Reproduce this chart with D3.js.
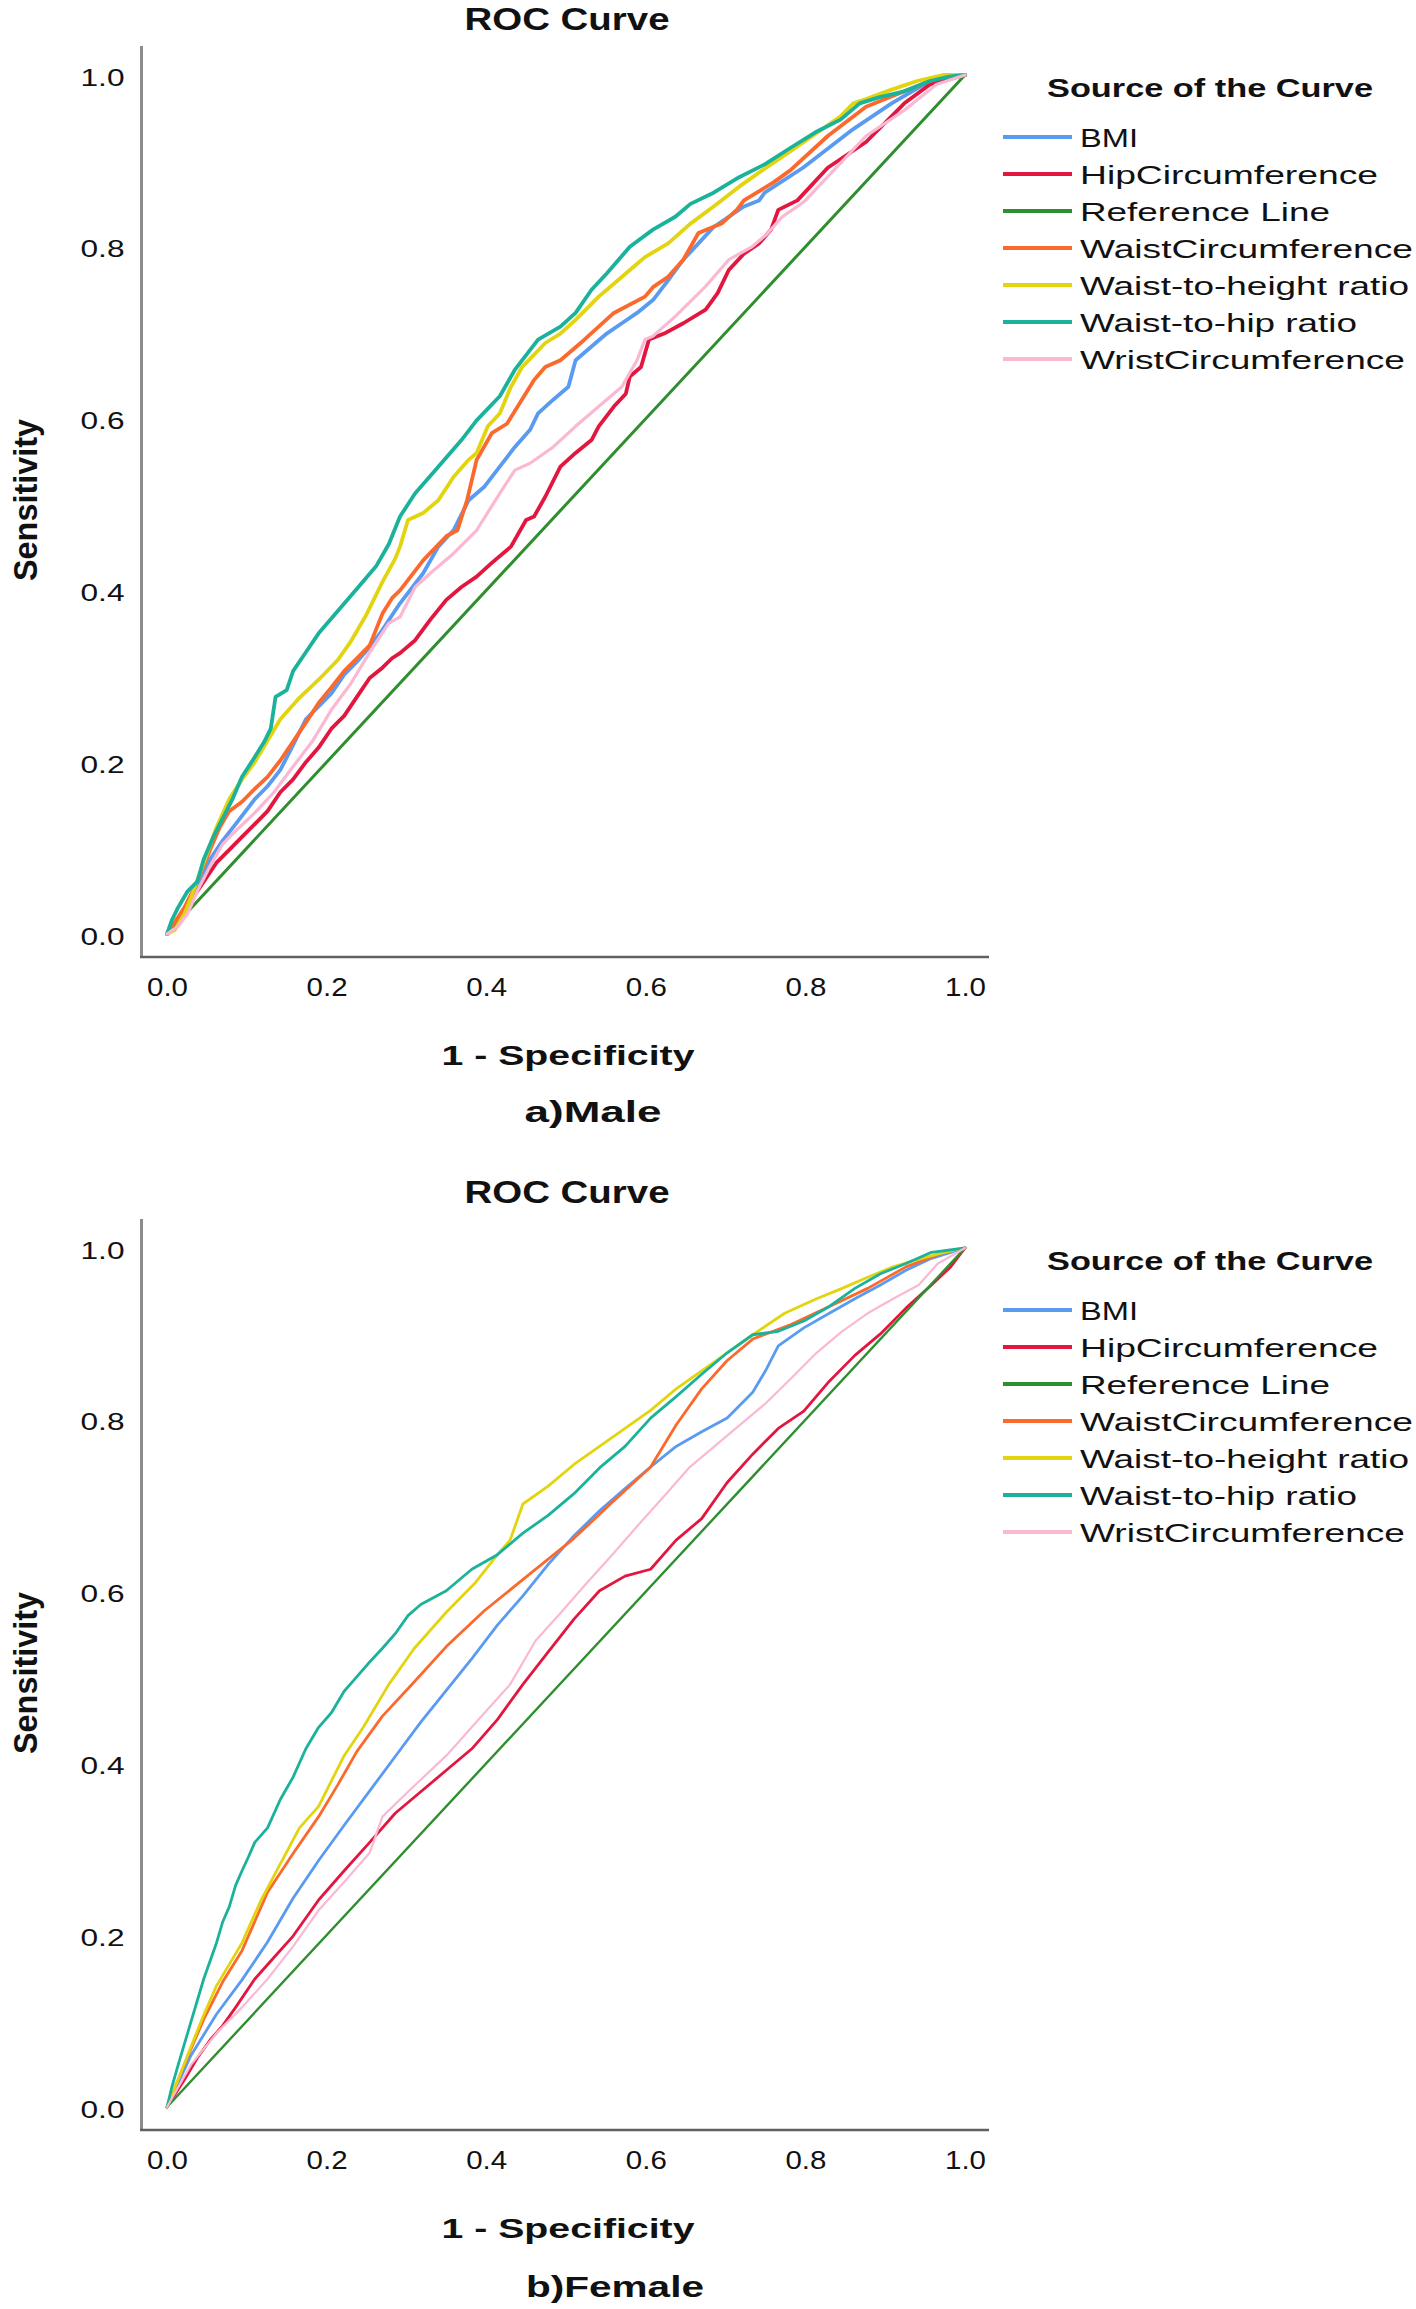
<!DOCTYPE html>
<html><head><meta charset="utf-8">
<script src="https://cdn.jsdelivr.net/npm/d3@7"></script>
<style>
body{margin:0;background:#fff}
svg text{font-family:"Liberation Sans",Arial,Helvetica,sans-serif;fill:#111}
</style>
</head><body>
<svg id="chart" width="1416" height="2309"></svg>
<script>
// ---------- data ----------
const seriesNames = ["BMI","HipCircumference","Reference Line","WaistCircumference","Waist-to-height ratio","Waist-to-hip ratio","WristCircumference"];
const seriesColors = ["#5a9bf2","#e2163f","#2f8f2f","#fb6a2c","#e2d50f","#1bb29b","#fbb8d3"];
const tickValues = [0,0.2,0.4,0.6,0.8,1.0];
const tickLabels = ["0.0","0.2","0.4","0.6","0.8","1.0"];
const panelTitles = ["ROC Curve","ROC Curve"];
const panelCaptions = ["a)Male","b)Female"];
const xTitle = "1 - Specificity";
const yTitle = "Sensitivity";
const legendTitle = "Source of the Curve";
const referenceLine = [[0,0],[1,1]];

// Male panel: [1 - specificity, sensitivity]
const maleBMI = [[0,0],[0.022,0.024],[0.038,0.053],[0.054,0.087],[0.07,0.109],[0.086,0.128],[0.11,0.157],[0.126,0.172],[0.142,0.191],[0.158,0.22],[0.174,0.25],[0.19,0.265],[0.206,0.28],[0.222,0.302],[0.238,0.317],[0.254,0.334],[0.27,0.354],[0.282,0.371],[0.292,0.385],[0.321,0.42],[0.34,0.451],[0.359,0.47],[0.378,0.505],[0.398,0.521],[0.417,0.544],[0.436,0.567],[0.455,0.587],[0.465,0.606],[0.484,0.622],[0.503,0.637],[0.512,0.668],[0.532,0.684],[0.551,0.699],[0.57,0.711],[0.589,0.723],[0.609,0.738],[0.628,0.761],[0.647,0.785],[0.666,0.804],[0.685,0.823],[0.704,0.835],[0.723,0.847],[0.742,0.854],[0.749,0.863],[0.797,0.892],[0.86,0.937],[0.908,0.967],[0.956,0.993],[0.99,1],[1,1]];
const maleHip = [[0,0],[0.018,0.016],[0.03,0.039],[0.046,0.061],[0.062,0.083],[0.078,0.098],[0.094,0.113],[0.11,0.128],[0.126,0.143],[0.142,0.165],[0.158,0.18],[0.174,0.2],[0.19,0.217],[0.206,0.239],[0.222,0.254],[0.238,0.276],[0.254,0.298],[0.27,0.31],[0.282,0.321],[0.292,0.327],[0.311,0.342],[0.33,0.366],[0.35,0.389],[0.369,0.404],[0.388,0.416],[0.407,0.432],[0.431,0.451],[0.45,0.482],[0.46,0.486],[0.474,0.509],[0.493,0.544],[0.512,0.56],[0.532,0.575],[0.541,0.591],[0.56,0.614],[0.575,0.629],[0.58,0.649],[0.594,0.66],[0.604,0.692],[0.623,0.699],[0.647,0.711],[0.675,0.727],[0.69,0.746],[0.704,0.773],[0.723,0.792],[0.742,0.804],[0.757,0.82],[0.766,0.843],[0.79,0.854],[0.828,0.892],[0.876,0.922],[0.924,0.967],[0.956,0.989],[1,1]];
const maleWaist = [[0,0],[0.022,0.031],[0.038,0.061],[0.054,0.098],[0.066,0.124],[0.078,0.143],[0.094,0.154],[0.11,0.169],[0.126,0.183],[0.142,0.202],[0.158,0.224],[0.174,0.246],[0.19,0.269],[0.206,0.287],[0.222,0.306],[0.238,0.321],[0.254,0.336],[0.27,0.373],[0.282,0.391],[0.292,0.4],[0.321,0.435],[0.35,0.463],[0.364,0.47],[0.376,0.505],[0.388,0.552],[0.407,0.583],[0.426,0.594],[0.46,0.645],[0.474,0.66],[0.493,0.668],[0.522,0.691],[0.541,0.707],[0.56,0.723],[0.599,0.742],[0.609,0.753],[0.628,0.765],[0.647,0.785],[0.666,0.816],[0.695,0.827],[0.714,0.843],[0.723,0.854],[0.76,0.875],[0.781,0.889],[0.828,0.929],[0.876,0.963],[0.924,0.981],[0.964,0.996],[1,1]];
const maleWHtR = [[0,0],[0.01,0.005],[0.022,0.024],[0.03,0.042],[0.046,0.083],[0.062,0.124],[0.078,0.157],[0.094,0.18],[0.11,0.2],[0.126,0.225],[0.142,0.25],[0.166,0.275],[0.19,0.296],[0.214,0.319],[0.23,0.34],[0.25,0.372],[0.27,0.41],[0.286,0.437],[0.292,0.451],[0.302,0.482],[0.321,0.49],[0.34,0.505],[0.359,0.532],[0.378,0.552],[0.388,0.56],[0.402,0.591],[0.417,0.606],[0.431,0.637],[0.445,0.66],[0.474,0.688],[0.493,0.699],[0.512,0.715],[0.541,0.742],[0.56,0.757],[0.58,0.773],[0.599,0.788],[0.628,0.804],[0.656,0.827],[0.685,0.847],[0.717,0.87],[0.749,0.891],[0.781,0.911],[0.812,0.931],[0.844,0.952],[0.86,0.967],[0.876,0.972],[0.908,0.983],[0.94,0.993],[0.972,1],[1,1]];
const maleWHR = [[0,0],[0.006,0.016],[0.014,0.031],[0.026,0.05],[0.038,0.061],[0.046,0.087],[0.058,0.113],[0.07,0.135],[0.082,0.157],[0.094,0.183],[0.11,0.206],[0.122,0.224],[0.13,0.239],[0.136,0.276],[0.15,0.284],[0.158,0.306],[0.174,0.328],[0.19,0.35],[0.214,0.376],[0.238,0.402],[0.262,0.428],[0.278,0.454],[0.292,0.486],[0.311,0.513],[0.34,0.544],[0.369,0.575],[0.388,0.598],[0.417,0.626],[0.436,0.657],[0.465,0.692],[0.493,0.707],[0.512,0.723],[0.532,0.75],[0.551,0.769],[0.58,0.8],[0.609,0.82],[0.637,0.835],[0.656,0.85],[0.685,0.863],[0.717,0.881],[0.749,0.896],[0.781,0.915],[0.812,0.933],[0.844,0.948],[0.868,0.967],[0.892,0.974],[0.924,0.981],[0.956,0.993],[0.98,0.998],[1,1]];
const maleWrist = [[0,0],[0.014,0.009],[0.026,0.024],[0.038,0.05],[0.054,0.079],[0.07,0.105],[0.086,0.12],[0.11,0.141],[0.134,0.165],[0.158,0.195],[0.182,0.224],[0.206,0.261],[0.23,0.291],[0.254,0.328],[0.278,0.362],[0.292,0.369],[0.311,0.404],[0.33,0.42],[0.359,0.443],[0.388,0.47],[0.417,0.513],[0.436,0.54],[0.455,0.548],[0.484,0.567],[0.512,0.591],[0.541,0.614],[0.57,0.637],[0.589,0.668],[0.599,0.692],[0.609,0.696],[0.637,0.719],[0.675,0.754],[0.704,0.785],[0.733,0.8],[0.752,0.815],[0.771,0.835],[0.79,0.847],[0.8,0.854],[0.876,0.929],[0.924,0.959],[0.964,0.989],[1,1]];

// Female panel
const femaleBMI = [[0,0],[0.03,0.06],[0.062,0.108],[0.094,0.148],[0.126,0.192],[0.158,0.243],[0.19,0.287],[0.222,0.328],[0.254,0.368],[0.286,0.408],[0.318,0.448],[0.35,0.485],[0.382,0.522],[0.414,0.561],[0.446,0.595],[0.478,0.632],[0.51,0.665],[0.542,0.694],[0.574,0.72],[0.606,0.745],[0.638,0.769],[0.67,0.786],[0.702,0.802],[0.734,0.832],[0.75,0.857],[0.766,0.886],[0.798,0.907],[0.83,0.924],[0.862,0.941],[0.894,0.957],[0.926,0.974],[0.958,0.988],[1,1]];
const femaleHip = [[0,0],[0.022,0.032],[0.038,0.057],[0.054,0.078],[0.07,0.095],[0.086,0.116],[0.11,0.149],[0.134,0.174],[0.158,0.199],[0.19,0.241],[0.222,0.275],[0.254,0.308],[0.286,0.342],[0.318,0.367],[0.35,0.392],[0.382,0.417],[0.414,0.451],[0.446,0.492],[0.478,0.53],[0.51,0.568],[0.542,0.601],[0.574,0.618],[0.606,0.626],[0.638,0.66],[0.67,0.685],[0.702,0.727],[0.734,0.76],[0.766,0.79],[0.798,0.81],[0.83,0.845],[0.862,0.875],[0.894,0.9],[0.926,0.93],[0.958,0.957],[0.982,0.978],[1,1]];
const femaleWaist = [[0,0],[0.022,0.05],[0.046,0.102],[0.07,0.146],[0.094,0.182],[0.126,0.25],[0.158,0.295],[0.19,0.338],[0.214,0.375],[0.238,0.414],[0.27,0.455],[0.31,0.495],[0.35,0.536],[0.398,0.578],[0.454,0.62],[0.51,0.662],[0.558,0.704],[0.606,0.745],[0.638,0.794],[0.67,0.836],[0.702,0.869],[0.734,0.894],[0.782,0.911],[0.83,0.932],[0.878,0.953],[0.926,0.978],[0.974,0.995],[1,1]];
const femaleWHtR = [[0,0],[0.014,0.032],[0.03,0.07],[0.046,0.107],[0.062,0.141],[0.078,0.166],[0.094,0.191],[0.118,0.241],[0.142,0.283],[0.166,0.325],[0.19,0.35],[0.222,0.409],[0.246,0.442],[0.278,0.492],[0.31,0.534],[0.35,0.576],[0.386,0.61],[0.414,0.643],[0.43,0.66],[0.446,0.702],[0.478,0.723],[0.51,0.748],[0.542,0.769],[0.574,0.79],[0.606,0.811],[0.638,0.836],[0.67,0.857],[0.702,0.878],[0.734,0.899],[0.774,0.924],[0.814,0.941],[0.846,0.953],[0.878,0.966],[0.91,0.978],[0.942,0.987],[0.974,0.995],[1,1]];
const femaleWHR = [[0,0],[0.006,0.023],[0.014,0.049],[0.022,0.074],[0.03,0.099],[0.038,0.124],[0.046,0.149],[0.054,0.17],[0.062,0.191],[0.07,0.216],[0.078,0.233],[0.086,0.258],[0.094,0.275],[0.102,0.291],[0.11,0.308],[0.126,0.325],[0.142,0.358],[0.158,0.384],[0.174,0.417],[0.19,0.442],[0.206,0.459],[0.222,0.484],[0.238,0.501],[0.254,0.518],[0.27,0.534],[0.286,0.551],[0.302,0.572],[0.318,0.585],[0.35,0.601],[0.382,0.626],[0.414,0.643],[0.446,0.668],[0.478,0.689],[0.51,0.714],[0.542,0.744],[0.574,0.769],[0.606,0.802],[0.638,0.827],[0.67,0.853],[0.702,0.878],[0.734,0.899],[0.766,0.903],[0.798,0.915],[0.83,0.932],[0.862,0.953],[0.894,0.97],[0.926,0.982],[0.958,0.995],[1,1]];
const femaleWrist = [[0,0],[0.03,0.049],[0.062,0.086],[0.094,0.116],[0.126,0.149],[0.158,0.187],[0.19,0.229],[0.222,0.262],[0.254,0.296],[0.27,0.338],[0.302,0.367],[0.35,0.409],[0.398,0.459],[0.43,0.492],[0.462,0.543],[0.494,0.576],[0.526,0.61],[0.558,0.643],[0.59,0.677],[0.622,0.71],[0.654,0.744],[0.686,0.769],[0.718,0.794],[0.75,0.819],[0.782,0.848],[0.814,0.878],[0.846,0.903],[0.878,0.924],[0.91,0.941],[0.942,0.957],[0.966,0.982],[1,1]];

const maleSeries = [maleBMI, maleHip, referenceLine, maleWaist, maleWHtR, maleWHR, maleWrist];
const femaleSeries = [femaleBMI, femaleHip, referenceLine, femaleWaist, femaleWHtR, femaleWHR, femaleWrist];

// ---------- drawing ----------
const svg = d3.select("#chart");
const panels = [
  {dy: 0,    series: maleSeries,   caption: panelCaptions[0], title: panelTitles[0], lw: 3.8, refw: 3},
  {dy: 1173, series: femaleSeries, caption: panelCaptions[1], title: panelTitles[1], lw: 2.8, refw: 2.4}
];

panels.forEach(p => {
  const g = svg.append("g").attr("transform", `translate(0,${p.dy})`);
  const x = d3.scaleLinear().domain([0,1]).range([167,965]);
  const y = d3.scaleLinear().domain([0,1]).range([934,75]);

  // title
  g.append("text").attr("x",567).attr("y",30).attr("text-anchor","middle")
    .attr("font-size",32).attr("font-weight","bold")
    .attr("textLength",205).attr("lengthAdjust","spacingAndGlyphs").text(p.title);

  // y axis
  const yAxis = g.append("g").attr("transform","translate(141.5,0)")
    .call(d3.axisLeft(y).tickValues(tickValues).tickSize(0).tickPadding(17)
      .tickFormat((d,i)=>tickLabels[i]));
  yAxis.select(".domain").remove();
  yAxis.selectAll("text").attr("font-size",24).attr("dy","0.42em")
    .attr("textLength",44).attr("lengthAdjust","spacingAndGlyphs")
    .style("font-family",'"Liberation Sans",Arial,sans-serif').attr("fill","#111");

  // x axis
  const xAxis = g.append("g").attr("transform","translate(0,957)")
    .call(d3.axisBottom(x).tickValues(tickValues).tickSize(0).tickPadding(21)
      .tickFormat((d,i)=>tickLabels[i]));
  xAxis.select(".domain").remove();
  xAxis.selectAll("text").attr("font-size",26).attr("dy","0.71em")
    .attr("textLength",41).attr("lengthAdjust","spacingAndGlyphs")
    .style("font-family",'"Liberation Sans",Arial,sans-serif').attr("fill","#111");

  // axis lines
  g.append("line").attr("x1",141.5).attr("x2",141.5).attr("y1",46).attr("y2",958)
    .attr("stroke","#8c8c8c").attr("stroke-width",3);
  g.append("line").attr("x1",140).attr("x2",989).attr("y1",957).attr("y2",957)
    .attr("stroke","#606060").attr("stroke-width",2.5);

  // curves
  const line = d3.line().x(d=>x(d[0])).y(d=>y(d[1]));
  p.series.forEach((s,i)=>{
    g.append("path").datum(s).attr("d",line).attr("fill","none")
      .attr("stroke",seriesColors[i])
      .attr("stroke-width", i===2 ? p.refw : (i===6 ? p.lw-0.6 : p.lw))
      .attr("stroke-linejoin","round").attr("stroke-linecap","round");
  });

  // axis titles
  g.append("text").attr("x",568).attr("y",1065).attr("text-anchor","middle")
    .attr("font-size",28).attr("font-weight","bold")
    .attr("textLength",253).attr("lengthAdjust","spacingAndGlyphs").text(xTitle);
  g.append("text").attr("transform","translate(25,500) rotate(-90)")
    .attr("text-anchor","middle").attr("dominant-baseline","central")
    .attr("font-size",34).attr("font-weight","bold")
    .attr("textLength",162).attr("lengthAdjust","spacingAndGlyphs").text(yTitle);

  // caption
  const capW = p.dy === 0 ? 137 : 178;
  const capX = p.dy === 0 ? 593 : 615;
  g.append("text").attr("x",capX).attr("y",p.dy===0?1122:1124).attr("text-anchor","middle")
    .attr("font-size",30).attr("font-weight","bold")
    .attr("textLength",capW).attr("lengthAdjust","spacingAndGlyphs").text(p.caption);

  // legend
  g.append("text").attr("x",1210).attr("y",97).attr("text-anchor","middle")
    .attr("font-size",26).attr("font-weight","bold")
    .attr("textLength",326).attr("lengthAdjust","spacingAndGlyphs").text(legendTitle);
  const legendWidths = [58,298,250,333,329,277,325];
  const ly = d3.scalePoint().domain(seriesNames).range([137,359]);
  seriesNames.forEach((n,i)=>{
    g.append("line").attr("x1",1003).attr("x2",1072).attr("y1",ly(n)).attr("y2",ly(n))
      .attr("stroke",seriesColors[i]).attr("stroke-width",4);
    g.append("text").attr("x",1080).attr("y",ly(n)+9.5).attr("font-size",26)
      .attr("textLength",legendWidths[i]).attr("lengthAdjust","spacingAndGlyphs").text(n);
  });
});
</script>
</body></html>
